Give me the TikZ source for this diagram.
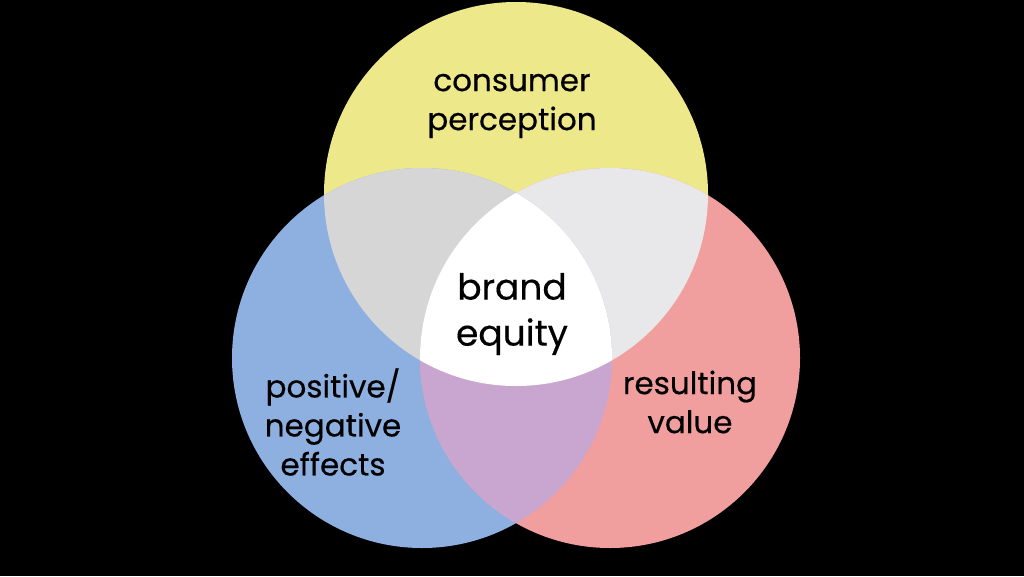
\documentclass[tikz,border=0pt]{standalone}
\usepackage{fontspec}
\setmainfont{Poppins}[FakeBold=0.4]
\definecolor{yel}{HTML}{EDE88A}
\definecolor{blu}{HTML}{8EB0E0}
\definecolor{rd}{HTML}{F09E9E}
\definecolor{yb}{HTML}{D6D6D6}
\definecolor{yr}{HTML}{E8E8EA}
\definecolor{br}{HTML}{C9A6D0}
\tikzset{lbl/.style={font=\fontsize{31}{39}\selectfont, align=center, text=black}}
\begin{document}
\begin{tikzpicture}[x=1pt,y=-1pt]
	% Fondo
		\fill[black] (0,0) rectangle (1024,576);
		\useasboundingbox (0,0) rectangle (1024,576);
	% Circulos
		\def\ctop{(516,194) circle (192)}
		\def\cleft{(422,358) circle (190)}
		\def\cright{(610,358) circle (190)}
		\fill[yel] \ctop;
		\fill[blu] \cleft;
		\fill[rd] \cright;
	% Intersecciones
		\begin{scope}\clip \ctop; \fill[yb] \cleft; \end{scope}
		\begin{scope}\clip \ctop; \fill[yr] \cright; \end{scope}
		\begin{scope}\clip \cleft; \fill[br] \cright; \end{scope}
		\begin{scope}\clip \ctop; \clip \cleft; \fill[white] \cright; \end{scope}
	% Etiquetas
		\node[lbl] (perception) at (512,106) {consumer\\perception};
		\node[lbl, font=\fontsize{36}{46}\selectfont] (equity) at (512,314) {brand\\equity};
		\node[lbl] (effects) at (333,422) {positive/\\negative\\effects};
		\node[lbl] (value) at (690,402) {resulting\\value};
\end{tikzpicture}
\end{document}
